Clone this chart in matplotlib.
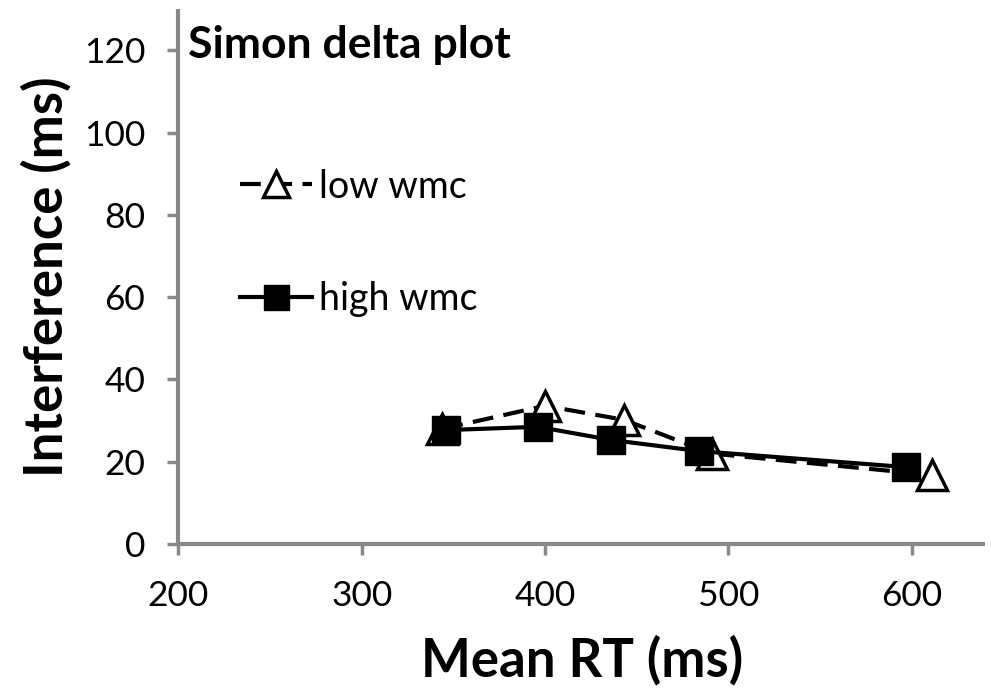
import matplotlib.pyplot as plt

# Delta plot data (mean RT bins vs Simon interference)
low_rt = [344, 400, 443, 491, 611]
low_int = [28.0, 33.6, 30.2, 22.0, 16.8]
high_rt = [346, 396, 436, 484, 597]
high_int = [27.7, 28.5, 25.3, 22.6, 18.7]

x_ticks = [200, 300, 400, 500, 600]
y_ticks = [0, 20, 40, 60, 80, 100, 120]

plt.rcParams['font.family'] = ['Lato', 'DejaVu Sans']
grey = '#898989'

fig = plt.figure(figsize=(9.91, 6.94), dpi=100)
ax = fig.add_axes([0.18, 0.216, 0.814, 0.771])

ax.plot(low_rt, low_int, color='black', lw=3, linestyle=(0, (5, 2.5)),
        marker='^', markersize=21, markerfacecolor='white',
        markeredgecolor='black', markeredgewidth=2.5, label='low wmc', zorder=2)
ax.plot(high_rt, high_int, color='black', lw=3, linestyle='-',
        marker='s', markersize=20, markerfacecolor='black',
        markeredgecolor='black', label='high wmc', zorder=3)

ax.set_xlim(200, 640)
ax.set_ylim(0, 130)
ax.set_xticks(x_ticks)
ax.set_yticks(y_ticks)
ax.tick_params(axis='both', labelsize=25.5, length=8, width=2.5, color=grey)
ax.tick_params(axis='x', pad=18)
ax.tick_params(axis='y', pad=16)

for s in ['top', 'right']:
    ax.spines[s].set_visible(False)
for s in ['left', 'bottom']:
    ax.spines[s].set_color(grey)
    ax.spines[s].set_linewidth(3)
    ax.spines[s].set_capstyle('butt')

ax.set_xlabel('Mean RT (ms)', fontsize=38, fontweight='bold', labelpad=16)
ax.set_ylabel('Interference (ms)', fontsize=38, fontweight='bold', labelpad=9)

ax.text(0.012, 0.97, 'Simon delta plot', transform=ax.transAxes,
        fontsize=32, fontweight='bold', va='top', ha='left')

leg = ax.legend(loc='upper left', bbox_to_anchor=(0.035, 0.765), frameon=False,
                fontsize=27, labelspacing=2.05, handlelength=1.9,
                handletextpad=0.2, markerscale=0.9)

fig.savefig('out.png', dpi=100)
